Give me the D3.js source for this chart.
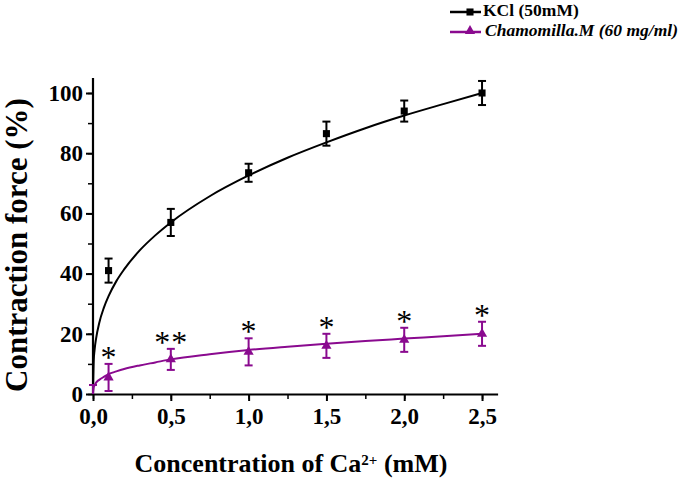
<!DOCTYPE html>
<html>
<head>
<script src="https://d3js.org/d3.v7.min.js"></script>
<style>
  body { margin: 0; background: #fff; }
  text { font-family: "Liberation Serif", "Times New Roman", serif; font-weight: bold; }
  text.star { font-weight: normal; }
</style>
</head>
<body>
<div id="chart"></div>
<script>
// measured points (mean +/- SEM)
const conc = [0.1, 0.5, 1.0, 1.5, 2.0, 2.5];
const kclMean = [41, 57, 73.5, 86.5, 94, 100];
const kclErr = [4, 4.5, 3, 4, 3.5, 4];
const chamConc = [0, 0.1, 0.5, 1.0, 1.5, 2.0, 2.5];
const chamMean = [0, 5.5, 11.5, 14, 16, 18, 20];
const chamErr = [3, 4.5, 3.5, 4.5, 4, 4, 4];
const starCount = [0, 1, 2, 1, 1, 1, 1];   // significance marks

// fitted curves
const fitX = [0, 0.005, 0.01, 0.02, 0.04, 0.07, 0.1, 0.15, 0.2, 0.3, 0.4, 0.5, 0.75, 1.0, 1.25, 1.5, 1.75, 2.0, 2.25, 2.5];
const kclFit = [0, 11.4, 14.6, 18.5, 23.6, 28.7, 32.5, 37.5, 41.4, 47.7, 52.7, 57, 65.7, 72.6, 78.5, 83.6, 88.3, 92.5, 96.3, 100];
const chamFit = [0, 2.3, 2.9, 3.8, 4.7, 5.7, 6.6, 7.5, 8.3, 9.5, 10.5, 11.5, 13.2, 14.6, 15.7, 16.7, 17.6, 18.4, 19.2, 20];

const xTicks = [0, 0.5, 1.0, 1.5, 2.0, 2.5];
const yTicks = [0, 20, 40, 60, 80, 100];

const purple = "#8a0a8f";
const W = 685, H = 482;

const svg = d3.select("#chart").append("svg")
  .attr("width", W).attr("height", H);

const x = d3.scaleLinear().domain([0, 2.6]).range([93, 497.6]);
const y = d3.scaleLinear().domain([0, 100]).range([394, 93]);

// axes
const fmt = d => d3.format(".1f")(d).replace(".", ",");
svg.append("g")
  .attr("transform", "translate(0,394)")
  .call(d3.axisBottom(x).tickValues(d3.range(0, 2.6, 0.25)).tickSize(5).tickFormat(""))
  .call(g => g.select(".domain").remove())
  .call(g => g.selectAll("line").attr("stroke-width", 1.5));
svg.append("g")
  .attr("transform", "translate(0,394)")
  .call(d3.axisBottom(x).tickValues(xTicks).tickSize(7).tickSizeOuter(0).tickFormat(fmt).tickPadding(7))
  .call(g => g.select(".domain").attr("stroke-width", 2.2))
  .call(g => g.selectAll("line").attr("stroke-width", 2))
  .call(g => g.selectAll("text").attr("font-size", 23).attr("fill", "#000"));

svg.append("g")
  .attr("transform", "translate(93,0)")
  .call(d3.axisLeft(y).tickValues(d3.range(0, 101, 10)).tickSize(5).tickFormat(""))
  .call(g => g.select(".domain").remove())
  .call(g => g.selectAll("line").attr("stroke-width", 1.5));
svg.append("g")
  .attr("transform", "translate(93,0)")
  .call(d3.axisLeft(y).tickValues(yTicks).tickSize(7).tickSizeOuter(0).tickPadding(3))
  .call(g => g.select(".domain").attr("d", `M0,${y(0)}V78`).attr("stroke-width", 2.2))
  .call(g => g.selectAll("line").attr("stroke-width", 2))
  .call(g => g.selectAll("text").attr("font-size", 23).attr("fill", "#000"));

// axis titles
svg.append("text")
  .attr("transform", "translate(27,245) rotate(-90)")
  .attr("text-anchor", "middle")
  .attr("font-size", 31)
  .text("Contraction force (%)");

const xt = svg.append("text")
  .attr("x", 291).attr("y", 472)
  .attr("text-anchor", "middle")
  .attr("font-size", 26);
xt.append("tspan").text("Concentration of Ca");
xt.append("tspan").attr("dy", -7).attr("font-size", 15).text("2+");
xt.append("tspan").attr("dy", 7).text(" (mM)");

// fitted curves
const line = d3.line().curve(d3.curveMonotoneX);
svg.append("path")
  .attr("d", line(fitX.map((d, i) => [x(d), y(kclFit[i])])))
  .attr("fill", "none").attr("stroke", "#000").attr("stroke-width", 2);
svg.append("path")
  .attr("d", line(fitX.map((d, i) => [x(d), y(chamFit[i])])))
  .attr("fill", "none").attr("stroke", purple).attr("stroke-width", 2);

// error bars
function errBars(xs, ms, es, color) {
  const g = svg.append("g").attr("stroke", color).attr("stroke-width", 2);
  xs.forEach((d, i) => {
    const cx = x(d), top = y(ms[i] + es[i]), bot = y(Math.max(0, ms[i] - es[i]));
    g.append("line").attr("x1", cx).attr("x2", cx).attr("y1", top).attr("y2", bot);
    g.append("line").attr("x1", cx - 4).attr("x2", cx + 4).attr("y1", top).attr("y2", top);
    if (ms[i] - es[i] > 0)
      g.append("line").attr("x1", cx - 4).attr("x2", cx + 4).attr("y1", bot).attr("y2", bot);
  });
}
errBars(conc, kclMean, kclErr, "#000");
errBars(chamConc, chamMean, chamErr, purple);

const sq = d3.symbol().type(d3.symbolSquare).size(50);
const tri = d3.symbol().type(d3.symbolTriangle).size(45);
svg.selectAll(".kcl").data(conc).enter().append("path")
  .attr("transform", (d, i) => `translate(${x(d)},${y(kclMean[i])})`)
  .attr("d", sq).attr("fill", "#000");
svg.selectAll(".cham").data(chamConc.slice(1)).enter().append("path")
  .attr("transform", (d, i) => `translate(${x(d)},${y(chamMean[i + 1])})`)
  .attr("d", tri).attr("fill", purple);

// significance stars
chamConc.forEach((d, i) => {
  const n = starCount[i];
  for (let k = 0; k < n; k++) {
    svg.append("text")
      .attr("class", "star")
      .attr("x", x(d) + (k - (n - 1) / 2) * 17)
      .attr("y", y(chamMean[i] + chamErr[i]) + 4)
      .attr("text-anchor", "middle")
      .attr("font-size", 32)
      .text("*");
  }
});

// legend
const leg = svg.append("g");
leg.append("line").attr("x1", 450).attr("x2", 481).attr("y1", 12).attr("y2", 12)
  .attr("stroke", "#000").attr("stroke-width", 2.5);
leg.append("path").attr("transform", "translate(470,12)").attr("d", sq).attr("fill", "#000");
leg.append("text").attr("x", 483).attr("y", 16).attr("font-size", 17.5).text("KCl (50mM)");
leg.append("line").attr("x1", 450).attr("x2", 481).attr("y1", 32).attr("y2", 32)
  .attr("stroke", purple).attr("stroke-width", 2.5);
leg.append("path").attr("transform", "translate(470,31)").attr("d", tri).attr("fill", purple);
leg.append("text").attr("x", 485).attr("y", 36).attr("font-size", 17.5)
  .attr("font-style", "italic").text("Chamomilla.M (60 mg/ml)");
</script>
</body>
</html>
